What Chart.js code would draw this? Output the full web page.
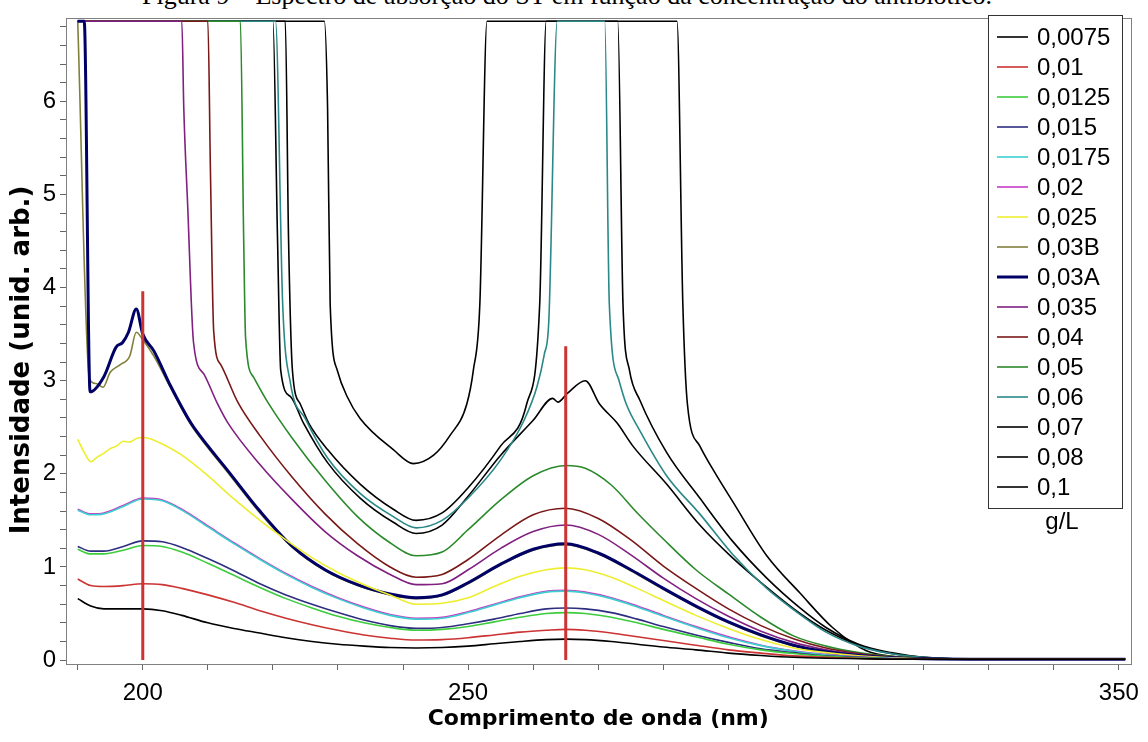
<!DOCTYPE html>
<html>
<head>
<meta charset="utf-8">
<script src="https://cdn.jsdelivr.net/npm/chart.js@4.4.1/dist/chart.umd.min.js"></script>
<style>
    html, body { margin: 0; padding: 0; background: #fff; overflow: hidden; }
    #wrap { position: relative; width: 1148px; height: 742px; }
    #caption {
        position: absolute; left: 142px; top: -17px; white-space: nowrap;
        font-family: 'Liberation Serif', serif; font-size: 26px; line-height: 26px; color: #000;
    }
    canvas { position: absolute; left: 0; top: 0; }
</style>
</head>
<body>
<div id="wrap">
    <div id="caption">Figura 9 – Espectro de absorção do ST em função da concentração do antibiótico.</div>
    <canvas id="spectrum" width="1148" height="742"></canvas>
</div>
<script>
// concentrations (g/L) and their line colours
const labels = ['0,0075', '0,01', '0,0125', '0,015', '0,0175', '0,02', '0,025', '0,03B', '0,03A', '0,035', '0,04', '0,05', '0,06', '0,07', '0,08', '0,1'];
const colors = ['#000000', '#cc3333', '#3ccc3c', '#2e2e80', '#3ccfcf', '#c83cc8', '#eeee30', '#80803a', '#000066', '#802080', '#7a1818', '#2b8a2b', '#2a8888', '#000000', '#000000', '#000000'];

// wavelength grid (nm) shared by the low concentrations
const wlLow = [190, 192, 194, 197, 200, 203, 206, 210, 214, 218, 222, 226, 230, 234, 238, 242, 246, 250, 254, 258, 262, 265, 268, 272, 276, 280, 285, 290, 295, 300, 305, 310, 315, 320, 330, 351];
const c0075 = [0.66, 0.58, 0.55, 0.55, 0.55, 0.53, 0.48, 0.40, 0.34, 0.29, 0.24, 0.20, 0.17, 0.15, 0.135, 0.13, 0.135, 0.15, 0.175, 0.20, 0.22, 0.225, 0.22, 0.20, 0.17, 0.14, 0.11, 0.075, 0.05, 0.03, 0.02, 0.015, 0.01, 0.01, 0.01, 0.01];
const c01 = [0.87, 0.80, 0.79, 0.80, 0.82, 0.81, 0.77, 0.70, 0.62, 0.53, 0.45, 0.38, 0.32, 0.27, 0.235, 0.215, 0.22, 0.24, 0.27, 0.30, 0.32, 0.33, 0.32, 0.29, 0.25, 0.21, 0.16, 0.11, 0.075, 0.045, 0.03, 0.02, 0.01, 0.01, 0.01, 0.01];
const c0125 = [1.19, 1.14, 1.14, 1.18, 1.23, 1.22, 1.16, 1.04, 0.91, 0.78, 0.66, 0.56, 0.47, 0.40, 0.35, 0.32, 0.33, 0.36, 0.41, 0.46, 0.50, 0.51, 0.50, 0.46, 0.40, 0.33, 0.25, 0.17, 0.11, 0.07, 0.04, 0.025, 0.015, 0.01, 0.01, 0.01];
const c015 = [1.22, 1.17, 1.17, 1.22, 1.28, 1.27, 1.21, 1.09, 0.96, 0.82, 0.70, 0.60, 0.51, 0.43, 0.37, 0.34, 0.35, 0.39, 0.44, 0.50, 0.55, 0.56, 0.55, 0.51, 0.44, 0.36, 0.27, 0.19, 0.12, 0.08, 0.045, 0.03, 0.015, 0.01, 0.01, 0.01];
const c0175 = [1.61, 1.56, 1.57, 1.65, 1.73, 1.71, 1.61, 1.43, 1.25, 1.08, 0.92, 0.78, 0.66, 0.56, 0.48, 0.44, 0.45, 0.51, 0.59, 0.67, 0.73, 0.74, 0.72, 0.66, 0.57, 0.47, 0.35, 0.24, 0.155, 0.095, 0.055, 0.03, 0.02, 0.01, 0.01, 0.01];
const c02 = [1.62, 1.57, 1.58, 1.66, 1.74, 1.72, 1.62, 1.44, 1.26, 1.09, 0.93, 0.79, 0.67, 0.57, 0.49, 0.45, 0.46, 0.52, 0.60, 0.68, 0.74, 0.75, 0.73, 0.67, 0.58, 0.48, 0.36, 0.25, 0.16, 0.10, 0.06, 0.035, 0.02, 0.01, 0.01, 0.01];

// the higher concentrations each get their own wavelengths (saturation edges)
const wl025 = [190, 191, 192, 193, 194, 195, 196, 197, 198, 199, 200, 201, 203, 206, 210, 214, 218, 222, 226, 230, 234, 238, 242, 246, 250, 254, 258, 262, 265, 268, 272, 276, 280, 285, 290, 295, 300, 305, 310, 315, 320, 330, 351];
const c025 = [2.37, 2.23, 2.13, 2.18, 2.22, 2.27, 2.30, 2.35, 2.34, 2.38, 2.39, 2.38, 2.32, 2.20, 1.98, 1.73, 1.50, 1.29, 1.10, 0.94, 0.81, 0.70, 0.60, 0.61, 0.67, 0.79, 0.90, 0.97, 0.99, 0.97, 0.89, 0.77, 0.64, 0.48, 0.34, 0.22, 0.13, 0.08, 0.045, 0.025, 0.015, 0.01, 0.01];

const wl03B = [190, 191.8, 192.8, 193.9, 195, 196.5, 198, 199, 200, 201.7, 204.3, 207.4, 210, 213, 218, 223, 228, 233, 238, 242, 246, 250, 255, 260, 265, 270, 275, 280, 285, 290, 295, 300, 305, 310, 315, 320, 330, 351];
const c03B = [6.86, 3.02, 2.97, 2.93, 3.09, 3.17, 3.265, 3.52, 3.44, 3.265, 2.92, 2.525, 2.28, 2.02, 1.58, 1.21, 0.96, 0.80, 0.70, 0.66, 0.69, 0.82, 1.02, 1.18, 1.24, 1.14, 0.96, 0.76, 0.57, 0.40, 0.26, 0.155, 0.085, 0.045, 0.02, 0.01, 0.01, 0.01];

const wl03A = [190, 191, 191.9, 194, 195.9, 196.9, 197.8, 199, 200, 201.7, 204.3, 207.4, 210, 213, 218, 223, 228, 233, 238, 242, 246, 250, 255, 260, 265, 270, 275, 280, 285, 290, 295, 300, 305, 310, 315, 320, 330, 351];
const c03A = [6.86, 6.86, 2.88, 3.04, 3.36, 3.41, 3.52, 3.77, 3.50, 3.32, 2.94, 2.545, 2.30, 2.04, 1.60, 1.22, 0.97, 0.81, 0.71, 0.67, 0.70, 0.83, 1.03, 1.19, 1.25, 1.15, 0.97, 0.77, 0.58, 0.41, 0.27, 0.16, 0.09, 0.05, 0.025, 0.015, 0.01, 0.01];

const wl035 = [190, 206, 206.3, 206.9, 207.8, 209.4, 211.5, 213, 218, 223, 228, 233, 238, 242, 246, 250, 255, 260, 265, 270, 275, 280, 285, 290, 295, 300, 305, 310, 315, 320, 330, 351];
const c035 = [6.86, 6.86, 5.93, 4.88, 3.41, 3.07, 2.75, 2.555, 2.10, 1.72, 1.38, 1.12, 0.92, 0.81, 0.82, 0.97, 1.20, 1.38, 1.45, 1.35, 1.13, 0.88, 0.66, 0.47, 0.31, 0.19, 0.11, 0.06, 0.03, 0.015, 0.01, 0.01];

const wl04 = [190, 210, 210.4, 210.9, 212, 214.6, 218, 223, 228, 233, 238, 242, 246, 250, 255, 260, 265, 270, 275, 280, 285, 290, 295, 300, 305, 310, 315, 320, 330, 351];
const c04 = [6.86, 6.86, 5.24, 3.53, 3.17, 2.77, 2.41, 1.96, 1.57, 1.25, 1.0, 0.89, 0.92, 1.08, 1.34, 1.56, 1.63, 1.52, 1.29, 1.01, 0.77, 0.55, 0.37, 0.23, 0.13, 0.07, 0.035, 0.02, 0.01, 0.01];

const wl05 = [190, 215, 215.5, 215.8, 217, 219.2, 223, 228, 233, 238, 242, 246, 250, 255, 260, 265, 268, 272, 276, 280, 285, 290, 295, 300, 305, 310, 315, 320, 330, 351];
const c05 = [6.86, 6.86, 4.55, 3.46, 3.04, 2.77, 2.38, 1.93, 1.54, 1.26, 1.12, 1.16, 1.40, 1.72, 1.98, 2.09, 2.06, 1.88, 1.58, 1.30, 0.97, 0.71, 0.46, 0.26, 0.15, 0.08, 0.04, 0.02, 0.01, 0.01];

const wl06 = [190, 220.4, 221.5, 222.7, 225, 228.4, 233.4, 238.5, 242, 246, 250, 255, 258.6, 260.6, 261.7, 262.4, 263.7, 271, 271.7, 273.2, 274.3, 276.3, 280.5, 285.6, 290.6, 295.9, 301, 305, 310, 315, 320, 330, 351];
const c06 = [6.86, 6.86, 3.82, 2.97, 2.59, 2.17, 1.79, 1.54, 1.42, 1.50, 1.74, 2.15, 2.575, 2.94, 3.28, 3.64, 6.86, 6.86, 3.82, 3.0, 2.75, 2.475, 1.98, 1.57, 1.14, 0.77, 0.49, 0.30, 0.15, 0.07, 0.03, 0.01, 0.01];

const wl07 = [190, 220, 220.7, 221.2, 222.7, 224.7, 228.4, 233.4, 238.5, 242, 246, 250, 255, 260, 263, 263.8, 265.2, 268, 270.2, 272.9, 275.3, 280.5, 285.6, 290.6, 295.9, 301, 305, 310, 315, 320, 330, 351];
const c07 = [6.86, 6.86, 4.55, 3.11, 2.83, 2.545, 2.12, 1.74, 1.48, 1.36, 1.45, 1.76, 2.20, 2.575, 2.81, 2.77, 2.86, 3.0, 2.75, 2.545, 2.30, 1.89, 1.45, 1.10, 0.78, 0.50, 0.32, 0.16, 0.07, 0.03, 0.01, 0.01];

const wl08 = [190, 221.9, 222.4, 223, 224.2, 225.5, 228.4, 233.4, 238.5, 242, 246, 250, 255, 259, 261, 262, 273, 273.8, 274.8, 276.4, 280.5, 285.6, 290.6, 295.9, 301, 305, 310, 315, 320, 330, 351];
const c08 = [6.86, 6.86, 4.53, 3.11, 2.75, 2.545, 2.26, 1.89, 1.62, 1.50, 1.58, 1.85, 2.30, 2.75, 3.82, 6.86, 6.86, 3.82, 3.11, 2.79, 2.23, 1.74, 1.28, 0.88, 0.56, 0.35, 0.17, 0.08, 0.03, 0.01, 0.01];

const wl1 = [190, 227.9, 228.4, 228.8, 229.9, 231.4, 233.4, 238.5, 241.6, 244.7, 247.2, 249.8, 250.8, 251.8, 252.9, 282.1, 283, 283.7, 285.6, 288.2, 290.6, 295.9, 301, 306, 311.2, 316.3, 320, 330, 351];
const c1 = [6.86, 6.86, 5.93, 3.82, 3.11, 2.83, 2.595, 2.26, 2.11, 2.20, 2.41, 2.75, 3.11, 3.82, 6.86, 6.86, 3.82, 2.75, 2.30, 1.98, 1.71, 1.12, 0.72, 0.35, 0.1, 0.03, 0.01, 0.01, 0.01];

const seriesX = [wlLow, wlLow, wlLow, wlLow, wlLow, wlLow, wl025, wl03B, wl03A, wl035, wl04, wl05, wl06, wl07, wl08, wl1];
const seriesY = [c0075, c01, c0125, c015, c0175, c02, c025, c03B, c03A, c035, c04, c05, c06, c07, c08, c1];

// red reference lines at 200 nm and 265 nm
const markWl = [200, 265];
const markTop = [3.96, 3.37];

const xTicks = [200, 250, 300, 350];

const tickFont = { family: "'Liberation Sans', Arial, sans-serif", size: 24 };
const titleFont = { family: "'DejaVu Sans', Verdana, sans-serif", size: 22, weight: 'bold' };

const datasets = labels.map((label, i) => ({
    label: label,
    data: seriesX[i].map((x, j) => ({ x: x, y: seriesY[i][j] })),
    borderColor: colors[i],
    borderWidth: label === '0,03A' ? 3 : 1.6,
    order: label === '0,03B' ? 2 : 1,
    cubicInterpolationMode: 'monotone',
    pointRadius: 0,
    fill: false
}));

markWl.forEach((wl, i) => {
    datasets.push({
        label: 'marker',
        data: [{ x: wl, y: 0 }, { x: wl, y: markTop[i] }],
        borderColor: '#cc3333',
        borderWidth: 3,
        order: 0,
        pointRadius: 0,
        fill: false
    });
});

// legend box drawn inside the plot, like the original
const legendBox = {
    id: 'legendBox',
    afterDraw(chart) {
        const c = chart.ctx;
        const left = 988, top = 15, w = 134, h = 493;
        c.save();
        c.fillStyle = '#fff';
        c.fillRect(left, top, w, h);
        c.strokeStyle = '#333';
        c.lineWidth = 1;
        c.strokeRect(left + 0.5, top + 0.5, w, h);
        c.font = "24px 'Liberation Sans', Arial, sans-serif";
        c.textBaseline = 'middle';
        c.fillStyle = '#000';
        labels.forEach((label, i) => {
            const y = 37 + i * 30;
            c.strokeStyle = colors[i];
            c.lineWidth = label === '0,03A' ? 3 : 1.6;
            c.beginPath();
            c.moveTo(997, y);
            c.lineTo(1028, y);
            c.stroke();
            c.fillText(label, 1037, y + 1);
        });
        c.textAlign = 'center';
        c.fillText('g/L', 1062, 522);
        c.restore();
    }
};

// y-axis title sits a little below the plot centre in the original
const yTitle = {
    id: 'yTitle',
    afterDraw(chart) {
        const c = chart.ctx;
        c.save();
        c.translate(22, 360);
        c.rotate(-Math.PI / 2);
        c.font = "bold 26px 'DejaVu Sans', Verdana, sans-serif";
        c.textAlign = 'center';
        c.textBaseline = 'middle';
        c.fillStyle = '#000';
        c.fillText('Intensidade (unid. arb.)', 0, 0);
        c.restore();
    }
};

// gray frame around the plot area
const frame = {
    id: 'frame',
    beforeDatasetsDraw(chart) {
        const a = chart.chartArea;
        const c = chart.ctx;
        c.save();
        c.strokeStyle = '#808080';
        c.lineWidth = 1;
        c.strokeRect(Math.round(a.left) + 0.5, Math.round(a.top) + 0.5, Math.round(a.right - a.left), Math.round(a.bottom - a.top));
        c.restore();
    }
};

new Chart(document.getElementById('spectrum'), {
    type: 'line',
    data: { datasets: datasets },
    options: {
        responsive: false,
        animation: false,
        layout: { autoPadding: false, padding: { top: 10, right: 16, left: 0, bottom: 0 } },
        plugins: {
            legend: { display: false },
            tooltip: { enabled: false }
        },
        scales: {
            x: {
                type: 'linear',
                min: 188.2,
                max: 351.8,
                afterFit: s => { s.height = 78; },
                grid: { drawOnChartArea: false, drawTicks: true, tickLength: 6, color: '#666' },
                border: { color: '#808080' },
                ticks: {
                    stepSize: 10,
                    includeBounds: false,
                    autoSkip: false,
                    maxRotation: 0,
                    padding: 9,
                    color: '#000',
                    font: tickFont,
                    callback: v => xTicks.includes(v) ? v : ''
                },
                title: { display: true, text: 'Comprimento de onda (nm)', color: '#000', font: titleFont, padding: { top: 0, bottom: 10 } }
            },
            y: {
                min: -0.042,
                max: 6.89,
                afterFit: s => { s.width = 66; },
                grid: { drawOnChartArea: false, drawTicks: true, tickLength: 6, color: '#666' },
                border: { color: '#808080' },
                ticks: {
                    stepSize: 0.2,
                    includeBounds: false,
                    autoSkip: false,
                    padding: 4,
                    color: '#000',
                    font: tickFont,
                    callback: v => Math.abs(v - Math.round(v)) < 1e-6 ? Math.round(v) : ''
                },
                title: { display: false }
            }
        }
    },
    plugins: [frame, legendBox, yTitle]
});
</script>
</body>
</html>
